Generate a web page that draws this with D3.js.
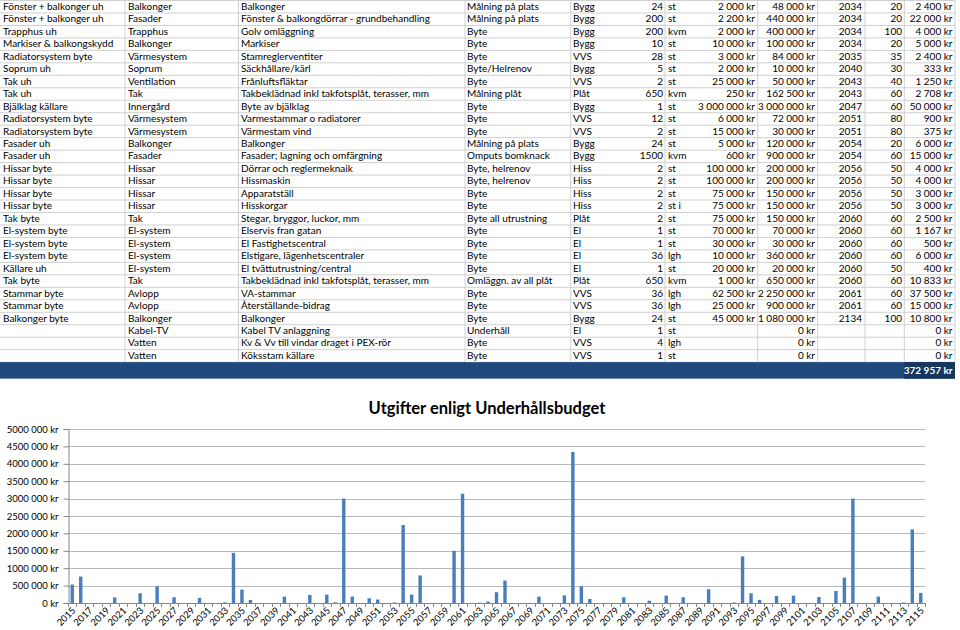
<html>
  <head>
    <style>
      body {
        margin: 0;
        background: #fff;
      }
      svg text {
        font-family: Lato, "Noto Sans", sans-serif;
      }
      .cell {
        font-size: 10px;
        fill: #000;
      }
      .grid line {
        stroke: #d0d0d0;
        stroke-width: 1;
      }
    </style>
  </head>
  <body>
    <svg></svg>

    <script src="https://d3js.org/d3.v7.min.js"></script>
    <script>
      let width = 960,
        height = 630;

      // spreadsheet rows: group, system, part, action, trade, qty, unit, price, total, year, life, per year
      let tableRows = [
        ["Fönster + balkonger uh", "Balkonger", "Balkonger", "Målning på plats", "Bygg", "24", "st", "2 000 kr", "48 000 kr", "2034", "20", "2 400 kr"],
        ["Fönster + balkonger uh", "Fasader", "Fönster & balkongdörrar - grundbehandling", "Målning på plats", "Bygg", "200", "st", "2 200 kr", "440 000 kr", "2034", "20", "22 000 kr"],
        ["Trapphus uh", "Trapphus", "Golv omläggning", "Byte", "Bygg", "200", "kvm", "2 000 kr", "400 000 kr", "2034", "100", "4 000 kr"],
        ["Markiser & balkongskydd", "Balkonger", "Markiser", "Byte", "Bygg", "10", "st", "10 000 kr", "100 000 kr", "2034", "20", "5 000 kr"],
        ["Radiatorsystem byte", "Värmesystem", "Stamreglerventiter", "Byte", "VVS", "28", "st", "3 000 kr", "84 000 kr", "2035", "35", "2 400 kr"],
        ["Soprum uh", "Soprum", "Säckhållare/kärl", "Byte/Helrenov", "Bygg", "5", "st", "2 000 kr", "10 000 kr", "2040", "30", "333 kr"],
        ["Tak uh", "Ventilation", "Frånluftsfläktar", "Byte", "VVS", "2", "st", "25 000 kr", "50 000 kr", "2043", "40", "1 250 kr"],
        ["Tak uh", "Tak", "Takbeklädnad inkl takfotsplåt, terasser, mm", "Målning plåt", "Plåt", "650", "kvm", "250 kr", "162 500 kr", "2043", "60", "2 708 kr"],
        ["Bjälklag källare", "Innergård", "Byte av bjälklag", "Byte", "Bygg", "1", "st", "3 000 000 kr", "3 000 000 kr", "2047", "60", "50 000 kr"],
        ["Radiatorsystem byte", "Värmesystem", "Varmestammar o radiatorer", "Byte", "VVS", "12", "st", "6 000 kr", "72 000 kr", "2051", "80", "900 kr"],
        ["Radiatorsystem byte", "Värmesystem", "Värmestam vind", "Byte", "VVS", "2", "st", "15 000 kr", "30 000 kr", "2051", "80", "375 kr"],
        ["Fasader uh", "Balkonger", "Balkonger", "Målning på plats", "Bygg", "24", "st", "5 000 kr", "120 000 kr", "2054", "20", "6 000 kr"],
        ["Fasader uh", "Fasader", "Fasader; lagning och omfärgning", "Omputs bomknack", "Bygg", "1500", "kvm", "600 kr", "900 000 kr", "2054", "60", "15 000 kr"],
        ["Hissar byte", "Hissar", "Dörrar och reglermeknaik", "Byte, helrenov", "Hiss", "2", "st", "100 000 kr", "200 000 kr", "2056", "50", "4 000 kr"],
        ["Hissar byte", "Hissar", "Hissmaskin", "Byte, helrenov", "Hiss", "2", "st", "100 000 kr", "200 000 kr", "2056", "50", "4 000 kr"],
        ["Hissar byte", "Hissar", "Apparatställ", "Byte", "Hiss", "2", "st", "75 000 kr", "150 000 kr", "2056", "50", "3 000 kr"],
        ["Hissar byte", "Hissar", "Hisskorgar", "Byte", "Hiss", "2", "st i", "75 000 kr", "150 000 kr", "2056", "50", "3 000 kr"],
        ["Tak byte", "Tak", "Stegar, bryggor, luckor, mm", "Byte all utrustning", "Plåt", "2", "st", "75 000 kr", "150 000 kr", "2060", "60", "2 500 kr"],
        ["El-system byte", "El-system", "Elservis fran gatan", "Byte", "El", "1", "st", "70 000 kr", "70 000 kr", "2060", "60", "1 167 kr"],
        ["El-system byte", "El-system", "El Fastighetscentral", "Byte", "El", "1", "st", "30 000 kr", "30 000 kr", "2060", "60", "500 kr"],
        ["El-system byte", "El-system", "Elstigare, lägenhetscentraler", "Byte", "El", "36", "lgh", "10 000 kr", "360 000 kr", "2060", "60", "6 000 kr"],
        ["Källare uh", "El-system", "El tvättutrustning/central", "Byte", "El", "1", "st", "20 000 kr", "20 000 kr", "2060", "50", "400 kr"],
        ["Tak byte", "Tak", "Takbeklädnad inkl takfotsplåt, terasser, mm", "Omläggn. av all plåt", "Plåt", "650", "kvm", "1 000 kr", "650 000 kr", "2060", "60", "10 833 kr"],
        ["Stammar byte", "Avlopp", "VA-stammar", "Byte", "VVS", "36", "lgh", "62 500 kr", "2 250 000 kr", "2061", "60", "37 500 kr"],
        ["Stammar byte", "Avlopp", "Återställande-bidrag", "Byte", "VVS", "36", "lgh", "25 000 kr", "900 000 kr", "2061", "60", "15 000 kr"],
        ["Balkonger byte", "Balkonger", "Balkonger", "Byte", "Bygg", "24", "st", "45 000 kr", "1 080 000 kr", "2134", "100", "10 800 kr"],
        ["", "Kabel-TV", "Kabel TV anlaggning", "Underhåll", "El", "1", "st", "", "0 kr", "", "", "0 kr"],
        ["", "Vatten", "Kv & Vv till vindar draget i PEX-rör", "Byte", "VVS", "4", "lgh", "", "0 kr", "", "", "0 kr"],
        ["", "Vatten", "Köksstam källare", "Byte", "VVS", "1", "st", "", "0 kr", "", "", "0 kr"],
      ];
      let grandTotal = "372 957 kr";

      let chartTitle = "Utgifter enligt Underhållsbudget";
      let years = d3.range(2015, 2116);
      // yearly cost in kr
      let costs = [
        530000, 760000, 0, 0, 0, 160000, 0, 0, 280000, 0,
        480000, 0, 165000, 0, 0, 145000, 0, 0, 20000, 1440000,
        385000, 88000, 0, 0, 0, 183000, 0, 0, 230000, 0,
        240000, 20000, 3000000, 185000, 0, 135000, 100000, 0, 15000, 2240000,
        240000, 790000, 0, 0, 0, 1500000, 3140000, 0, 10000, 40000,
        310000, 645000, 0, 0, 0, 185000, 0, 0, 220000, 4340000,
        480000, 115000, 0, 0, 0, 165000, 0, 0, 67000, 0,
        212000, 0, 165000, 0, 0, 395000, 0, 0, 15000, 1340000,
        280000, 88000, 0, 202000, 0, 212000, 0, 0, 173000, 0,
        345000, 730000, 3000000, 0, 0, 183000, 0, 0, 15000, 2115000,
        290000,
      ];
      let yTicks = [0, 500000, 1000000, 1500000, 2000000, 2500000, 3000000, 3500000, 4000000, 4500000, 5000000];

      let svg = d3.select("svg").attr("width", width).attr("height", height);

      // ---- table ----
      let rowH = 12.47;
      let colBorders = [125, 238.5, 465, 570.7, 665, 757.7, 817.7, 865, 904.3, 955];
      // x position and anchor for each column's text
      let colPos = [
        [3, "start"], [128, "start"], [241, "start"], [467, "start"], [573, "start"],
        [663, "end"], [668, "start"], [755, "end"], [815, "end"], [862, "end"], [902, "end"], [952.5, "end"],
      ];

      let grid = svg.append("g").attr("class", "grid");
      grid
        .selectAll("line.h")
        .data(d3.range(tableRows.length + 1))
        .enter()
        .append("line")
        .attr("x1", 0)
        .attr("x2", 955)
        .attr("y1", (d) => d * rowH + 0.5)
        .attr("y2", (d) => d * rowH + 0.5);
      grid
        .selectAll("line.v")
        .data(colBorders)
        .enter()
        .append("line")
        .attr("x1", (d) => d)
        .attr("x2", (d) => d)
        .attr("y1", 0)
        .attr("y2", tableRows.length * rowH);

      let rowsG = svg
        .append("g")
        .selectAll("g")
        .data(tableRows)
        .enter()
        .append("g")
        .attr("transform", (d, i) => "translate(0," + (i * rowH + 9.8) + ")");
      rowsG
        .selectAll("text")
        .data((d) => d)
        .enter()
        .append("text")
        .attr("class", "cell")
        .attr("x", (d, i) => colPos[i][0])
        .attr("text-anchor", (d, i) => colPos[i][1])
        .text((d) => d);

      // total band
      let bandY = tableRows.length * rowH + 0.5;
      svg
        .append("rect")
        .attr("x", 0)
        .attr("y", bandY)
        .attr("width", 955)
        .attr("height", 16.5)
        .attr("fill", "#1f497d");
      svg
        .append("rect")
        .attr("x", 904.3)
        .attr("y", bandY)
        .attr("width", 50.7)
        .attr("height", 16.5)
        .attr("fill", "#17365d");
      svg
        .append("text")
        .attr("x", 952.5)
        .attr("y", bandY + 12)
        .attr("text-anchor", "end")
        .attr("font-size", 10)
        .attr("font-weight", "bold")
        .attr("fill", "#fff")
        .text(grandTotal);

      // ---- chart ----
      let x = d3
        .scaleBand()
        .domain(years)
        .range([68, 925])
        .paddingInner(0.6)
        .paddingOuter(0.3);
      let y = d3.scaleLinear().domain([0, 5000000]).range([603, 429]);

      svg
        .append("text")
        .attr("x", 487)
        .attr("y", 414)
        .attr("text-anchor", "middle")
        .attr("font-size", 16.5)
        .attr("font-weight", "bold")
        .text(chartTitle);

      let fmt = (d) => (d === 0 ? "0 kr" : d / 1000 + " 000 kr");

      svg
        .append("g")
        .selectAll("line")
        .data(yTicks.slice(1))
        .enter()
        .append("line")
        .attr("x1", 68)
        .attr("x2", 925)
        .attr("y1", (d) => Math.round(y(d)) + 0.5)
        .attr("y2", (d) => Math.round(y(d)) + 0.5)
        .attr("stroke", "#b8b8b8");

      let yAxis = svg
        .append("g")
        .attr("transform", "translate(68.5,0)")
        .call(d3.axisLeft(y).tickValues(yTicks).tickFormat(fmt).tickSize(5));
      yAxis.select(".domain").attr("stroke", "#868686");
      yAxis.selectAll(".tick line").attr("stroke", "#868686");
      yAxis
        .selectAll(".tick text")
        .attr("font-family", "Lato, sans-serif")
        .attr("font-size", 9.5)
        .attr("fill", "#000")
        .attr("x", -10);

      svg
        .append("g")
        .selectAll("rect")
        .data(years)
        .enter()
        .append("rect")
        .attr("x", (d) => x(d))
        .attr("width", x.bandwidth())
        .attr("y", (d, i) => y(costs[i]))
        .attr("height", (d, i) => y(0) - y(costs[i]))
        .attr("fill", "#4a7ebb");

      // x axis line with ticks between categories
      let step = x.step();
      let xAxis = svg.append("g");
      xAxis
        .append("line")
        .attr("x1", 68)
        .attr("x2", 925)
        .attr("y1", 603.5)
        .attr("y2", 603.5)
        .attr("stroke", "#868686");
      xAxis
        .selectAll("line.t")
        .data(d3.range(years.length + 1))
        .enter()
        .append("line")
        .attr("x1", (d) => Math.round(68 + d * step) + 0.5)
        .attr("x2", (d) => Math.round(68 + d * step) + 0.5)
        .attr("y1", 603)
        .attr("y2", 607)
        .attr("stroke", "#868686");
      xAxis
        .selectAll("text")
        .data(years.filter((d, i) => i % 2 === 0))
        .enter()
        .append("text")
        .attr("text-anchor", "end")
        .attr("font-size", 9.5)
        .attr(
          "transform",
          (d) => "translate(" + (x(d) + x.bandwidth() / 2 + 4) + ",611) rotate(-45)"
        )
        .text((d) => d);
    </script>
  </body>
</html>
